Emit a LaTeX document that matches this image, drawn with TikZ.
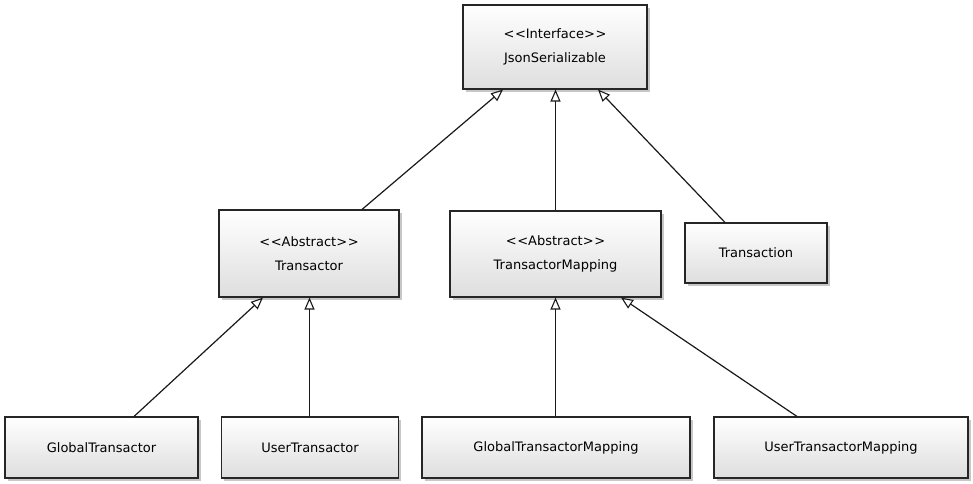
\documentclass[tikz,border=0pt]{standalone}
\usepackage{fontspec}
\setmainfont{DejaVu Sans}
\usetikzlibrary{arrows.meta,shadows}
\newcommand{\lt}{<\kern0.6pt<}
\newcommand{\gt}{>\kern0.6pt>}
\begin{document}
\begin{tikzpicture}[x=1pt,y=-1pt,
  cls/.style={draw=black!85, line width=1.1pt, rectangle, inner sep=0pt,
    top color=white, bottom color=black!13, align=center,
    font=\fontsize{13}{24}\selectfont,
    drop shadow={shadow xshift=2.5pt, shadow yshift=-2.5pt, opacity=0.22, fill=black}},
  inh/.style={line width=1.2pt, draw=black!90, -{Triangle[open, length=12pt, width=10pt, line width=1.1pt]}}]
\useasboundingbox (0,0) rectangle (973,483);
\fill[white] (0,0) rectangle (973,483);
\node[cls, minimum width=184pt, minimum height=84pt] (js) at (555,47) {\lt Interface\gt\\JsonSerializable};
\node[cls, minimum width=180pt, minimum height=87pt] (tr) at (309,253.5) {\lt Abstract\gt\\Transactor};
\node[cls, minimum width=211pt, minimum height=86pt] (tm) at (555.5,254) {\lt Abstract\gt\\TransactorMapping};
\node[cls, minimum width=142pt, minimum height=60pt] (tn) at (756,253) {Transaction};
\node[cls, minimum width=193pt, minimum height=61pt] (gt) at (101.5,447.5) {GlobalTransactor};
\node[cls, minimum width=177pt, minimum height=61pt] (ut) at (310,447.5) {UserTransactor};
\node[cls, minimum width=268pt, minimum height=61pt] (gtm) at (556,447.5) {GlobalTransactorMapping};
\node[cls, minimum width=254pt, minimum height=61pt] (utm) at (841,447.5) {UserTransactorMapping};
\draw[inh] ([xshift=53pt]tr.north) -- ([xshift=-52pt]js.south);
\draw[inh] (tm.north -| 555.5,0) -- (js.south -| 555.5,0);
\draw[inh] ([xshift=-31pt]tn.north) -- ([xshift=43pt]js.south);
\draw[inh] ([xshift=32.5pt]gt.north) -- ([xshift=-46pt]tr.south);
\draw[inh] (ut.north -| 309.5,0) -- (tr.south -| 309.5,0);
\draw[inh] (gtm.north -| 555.5,0) -- (tm.south -| 555.5,0);
\draw[inh] ([xshift=-44pt]utm.north) -- ([xshift=65.5pt]tm.south);
\end{tikzpicture}
\end{document}
